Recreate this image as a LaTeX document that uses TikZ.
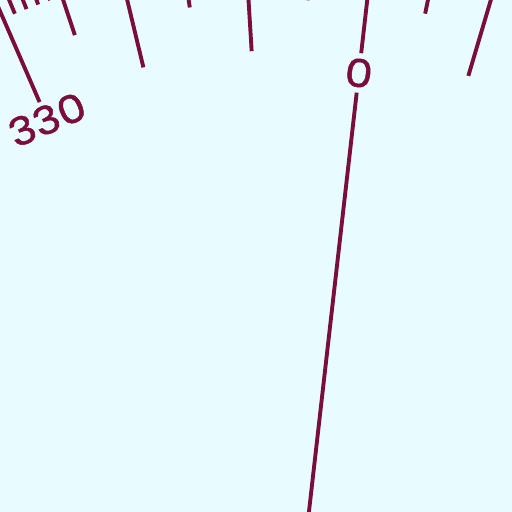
\documentclass[tikz,border=0pt]{standalone}
\usepackage{fontspec}
\setmainfont{Poppins}
\newfontfamily\rosefont[FakeBold=1.2, FakeStretch=1.15]{Poppins}
\definecolor{roseline}{HTML}{7A0C3E}
\definecolor{chartbg}{HTML}{E8FBFE}
\begin{document}
\begin{tikzpicture}[x=0.01cm,y=0.01cm]
\tikzset{
  rose/.style={draw=roseline, line width=1.1pt},
  bearing/.style={text=roseline, font=\rosefont\fontsize{11}{13}\selectfont, inner sep=1.4pt, transform shape}
}
\fill[chartbg] (0,0) rectangle (512,512);
\clip (0,0) rectangle (512,512);
\begin{scope}[shift={(290,-166)}, rotate=-6.5]
\coordinate (centre) at (0,0);
\foreach \b in {-40,...,40} {
  \pgfmathtruncatemacro\tens{mod(\b+360,10)}
  \pgfmathtruncatemacro\fives{mod(\b+360,5)}
  \ifnum\b=0 \else
    \ifnum\tens=0
      \draw[rose] ({90-\b}:628) -- ({90-\b}:780);
    \else\ifnum\fives=0
      \draw[rose] ({90-\b}:678) -- ({90-\b}:780);
    \else
      \draw[rose] ({90-\b}:719) -- ({90-\b}:780);
    \fi\fi
  \fi
}
\node[bearing] (n0) at (90:609) {0};
\node[bearing, rotate=30] (n330) at (120:609) {330};
\draw[rose] (centre) -- (n0);
\draw[rose] (n0) -- (90:780);
\end{scope}
\end{tikzpicture}
\end{document}
